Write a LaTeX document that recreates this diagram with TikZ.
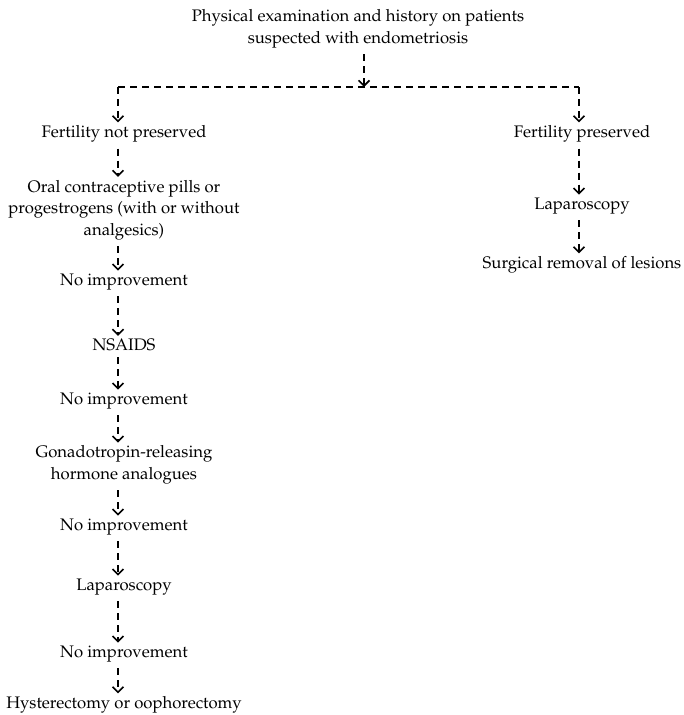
\documentclass[tikz,border=0pt]{standalone}
\usepackage[T1]{fontenc}
\usepackage{mathpazo}
\usetikzlibrary{arrows.meta}

\begin{document}
\begin{tikzpicture}[x=1pt,y=-1pt]
  %--------------------------------------------
  % Área total da figura
  %--------------------------------------------
  \useasboundingbox (0,0) rectangle (684,715);

  %--------------------------------------------
  % Posições das colunas
  %--------------------------------------------
  \def\xe{124}   % centro da coluna esquerda
  \def\xd{582}   % centro da coluna direita

  %--------------------------------------------
  % Estilos de texto e de setas tracejadas
  %--------------------------------------------
  \tikzstyle{texto} = [
    align=center, inner sep=1pt,              % texto centrado
    font=\fontsize{16.7}{21.5}\selectfont     % tamanho da fonte
  ]
  \tikzstyle{linha} = [
    line width=1.8pt, dash pattern=on 7pt off 5pt   % tracejado grosso
  ]
  \tikzstyle{seta} = [
    linha, shorten <=5pt, shorten >=2pt,
    -{Straight Barb[length=5.5pt,width=11pt,line width=1.6pt]}
  ]

  %--------------------------------------------
  % Nó inicial e ramificação
  %--------------------------------------------
  \node[texto] (exame) at (358,29)
    {Physical examination and history on patients\\suspected with endometriosis};
  \coordinate (meio) at (364,87);
  \coordinate (esq) at (118,87);
  \coordinate (dir) at (579,87);

  %--------------------------------------------
  % Coluna esquerda
  %--------------------------------------------
  \node[texto] (naopres) at (\xe,134) {Fertility not preserved};
  \node[texto] (pilulas) at (\xe,210)
    {Oral contraceptive pills or\\progestrogens (with or without\\analgesics)};
  \node[texto] (sem1) at (\xe,282) {No improvement};
  \node[texto] (nsaids) at (\xe,345) {NSAIDS};
  \node[texto] (sem2) at (\xe,401) {No improvement};
  \node[texto] (gnrh) at (\xe,465)
    {Gonadotropin-releasing\\hormone analogues};
  \node[texto] (sem3) at (\xe,527) {No improvement};
  \node[texto] (lapesq) at (\xe,587) {Laparoscopy};
  \node[texto] (sem4) at (\xe,654) {No improvement};
  \node[texto] (histe) at (\xe,705) {Hysterectomy or oophorectomy};

  %--------------------------------------------
  % Coluna direita
  %--------------------------------------------
  \node[texto] (pres) at (\xd,134) {Fertility preserved};
  \node[texto] (lapdir) at (\xd,206) {Laparoscopy};
  \node[texto] (cirurgia) at (\xd,265) {Surgical removal of lesions};

  %--------------------------------------------
  % Ligações
  %--------------------------------------------
  \draw[seta, shorten >=0pt] (exame.south -| meio) -- (meio);
  \draw[linha] (esq) -- (dir);
  \draw[seta, shorten <=0pt] (esq) -- (naopres.north -| esq);
  \draw[seta, shorten <=0pt] (dir) -- (pres.north -| dir);

  % setas da coluna esquerda (um pouco à esquerda do centro)
  \foreach \a/\b in {naopres/pilulas,pilulas/sem1,sem1/nsaids,nsaids/sem2,
    sem2/gnrh,gnrh/sem3,sem3/lapesq,lapesq/sem4,sem4/histe}
    \draw[seta] ([xshift=-6pt]\a.south) -- ([xshift=-6pt]\b.north);

  % setas da coluna direita
  \foreach \a/\b in {pres/lapdir,lapdir/cirurgia}
    \draw[seta] ([xshift=-3pt]\a.south) -- ([xshift=-3pt]\b.north);
\end{tikzpicture}
\end{document}
